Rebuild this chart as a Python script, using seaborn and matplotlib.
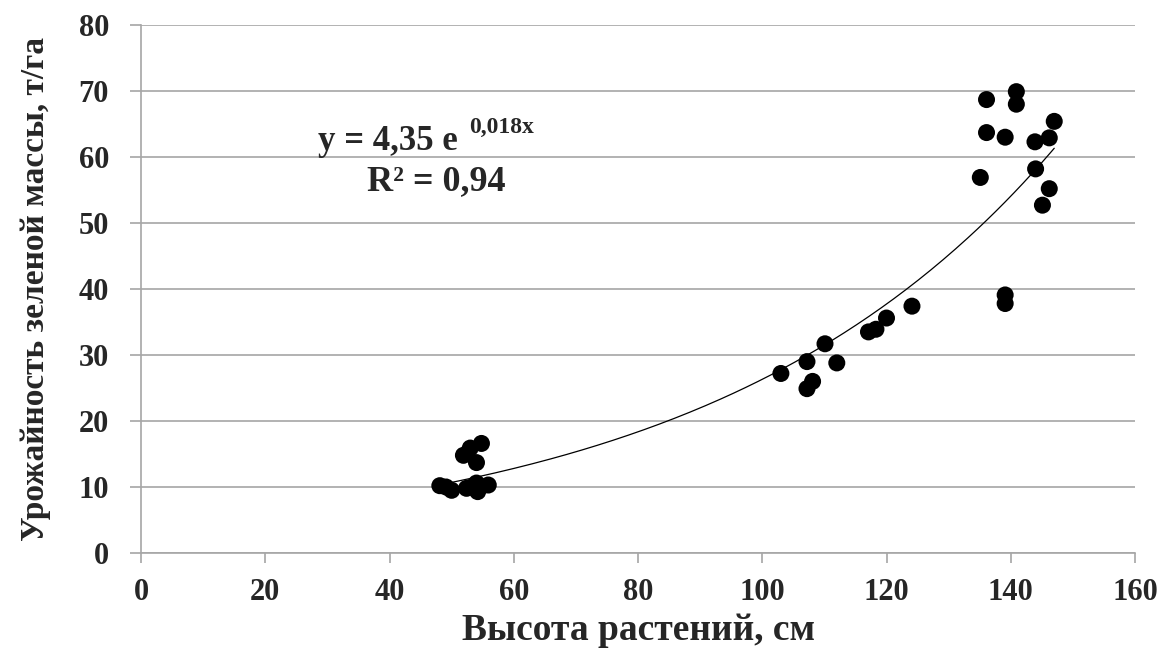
import numpy as np
import pandas as pd
import seaborn as sns
import matplotlib.pyplot as plt

# --- Data ---
height_cm = [48.1, 49.1, 50.0, 52.4, 53.2, 54.0, 54.2, 55.9,
             51.9, 53.0, 54.8, 54.0,
             103.0, 107.2, 107.2, 108.1, 110.1, 112.0, 117.1, 118.3, 120.0, 124.1,
             136.1, 140.9, 140.9, 136.1, 139.1, 143.9, 146.2, 147.0,
             135.1, 144.0, 146.2, 145.1, 139.1, 139.1]
yield_t_ha = [10.2, 10.0, 9.5, 9.8, 10.0, 10.6, 9.3, 10.3,
              14.8, 15.9, 16.6, 13.7,
              27.2, 29.0, 24.9, 26.0, 31.7, 28.8, 33.5, 33.9, 35.6, 37.4,
              68.7, 69.9, 68.0, 63.7, 63.0, 62.3, 62.9, 65.4,
              56.9, 58.2, 55.2, 52.7, 39.1, 37.8]

# exponential trend shown on the chart: y = A * e^(B x)
FIT_A = 4.35
FIT_B = 0.018

X_TICKS = [0, 20, 40, 60, 80, 100, 120, 140, 160]
Y_TICKS = [0, 10, 20, 30, 40, 50, 60, 70, 80]

df = pd.DataFrame({'height': height_cm, 'yield': yield_t_ha})
x_fit = np.linspace(df['height'].min(), df['height'].max(), 200)
fit_df = pd.DataFrame({'height': x_fit, 'yield': FIT_A * np.exp(FIT_B * x_fit)})

sns.set_style('white')
plt.rcParams['font.family'] = ['Liberation Serif', 'DejaVu Serif']

fig = plt.figure(figsize=(11.65, 6.48), dpi=100)
ax = fig.add_axes([141 / 1165, 1 - 553 / 648, (1135 - 141) / 1165, (553 - 25) / 648])

sns.lineplot(data=fit_df, x='height', y='yield', color='black', linewidth=0.9, ax=ax)
sns.scatterplot(data=df, x='height', y='yield', color='black', s=150,
                edgecolor='none', ax=ax, zorder=3)

ax.set_xlim(0, 160)
ax.set_ylim(0, 80)
ax.set_xticks(X_TICKS)
ax.set_yticks(Y_TICKS)
ax.grid(axis='y', color='#a6a6a6', linewidth=1.2)
ax.grid(axis='x', visible=False)
ax.set_axisbelow(True)

for side in ['top', 'right']:
    ax.spines[side].set_visible(False)
for side in ['left', 'bottom']:
    ax.spines[side].set_color('#a6a6a6')
    ax.spines[side].set_linewidth(1.2)

ax.tick_params(axis='y', left=True, length=8, width=1.2, color='#a6a6a6', pad=15,
               labelsize=22)
ax.tick_params(axis='x', bottom=True, length=7, width=1.2, color='#a6a6a6', pad=11,
               labelsize=22)
for lbl in ax.get_xticklabels() + ax.get_yticklabels():
    lbl.set_fontweight('bold')

ax.set_xlabel('Высота растений, см', fontsize=27, fontweight='bold', labelpad=4)
ax.set_ylabel('Урожайность зеленой массы, т/га', fontsize=24, fontweight='bold',
              labelpad=20)

# equation and R² annotation
ax.text(28.5, 61.0, 'y = 4,35 e', fontsize=25, fontweight='bold', ha='left', va='baseline')
ax.text(52.8, 63.6, '0,018x', fontsize=17, fontweight='bold', ha='left', va='baseline')
ax.text(36.4, 55.0, 'R² = 0,94', fontsize=26, fontweight='bold', ha='left', va='baseline')

fig.savefig('out.png', dpi=100)
plt.close(fig)
